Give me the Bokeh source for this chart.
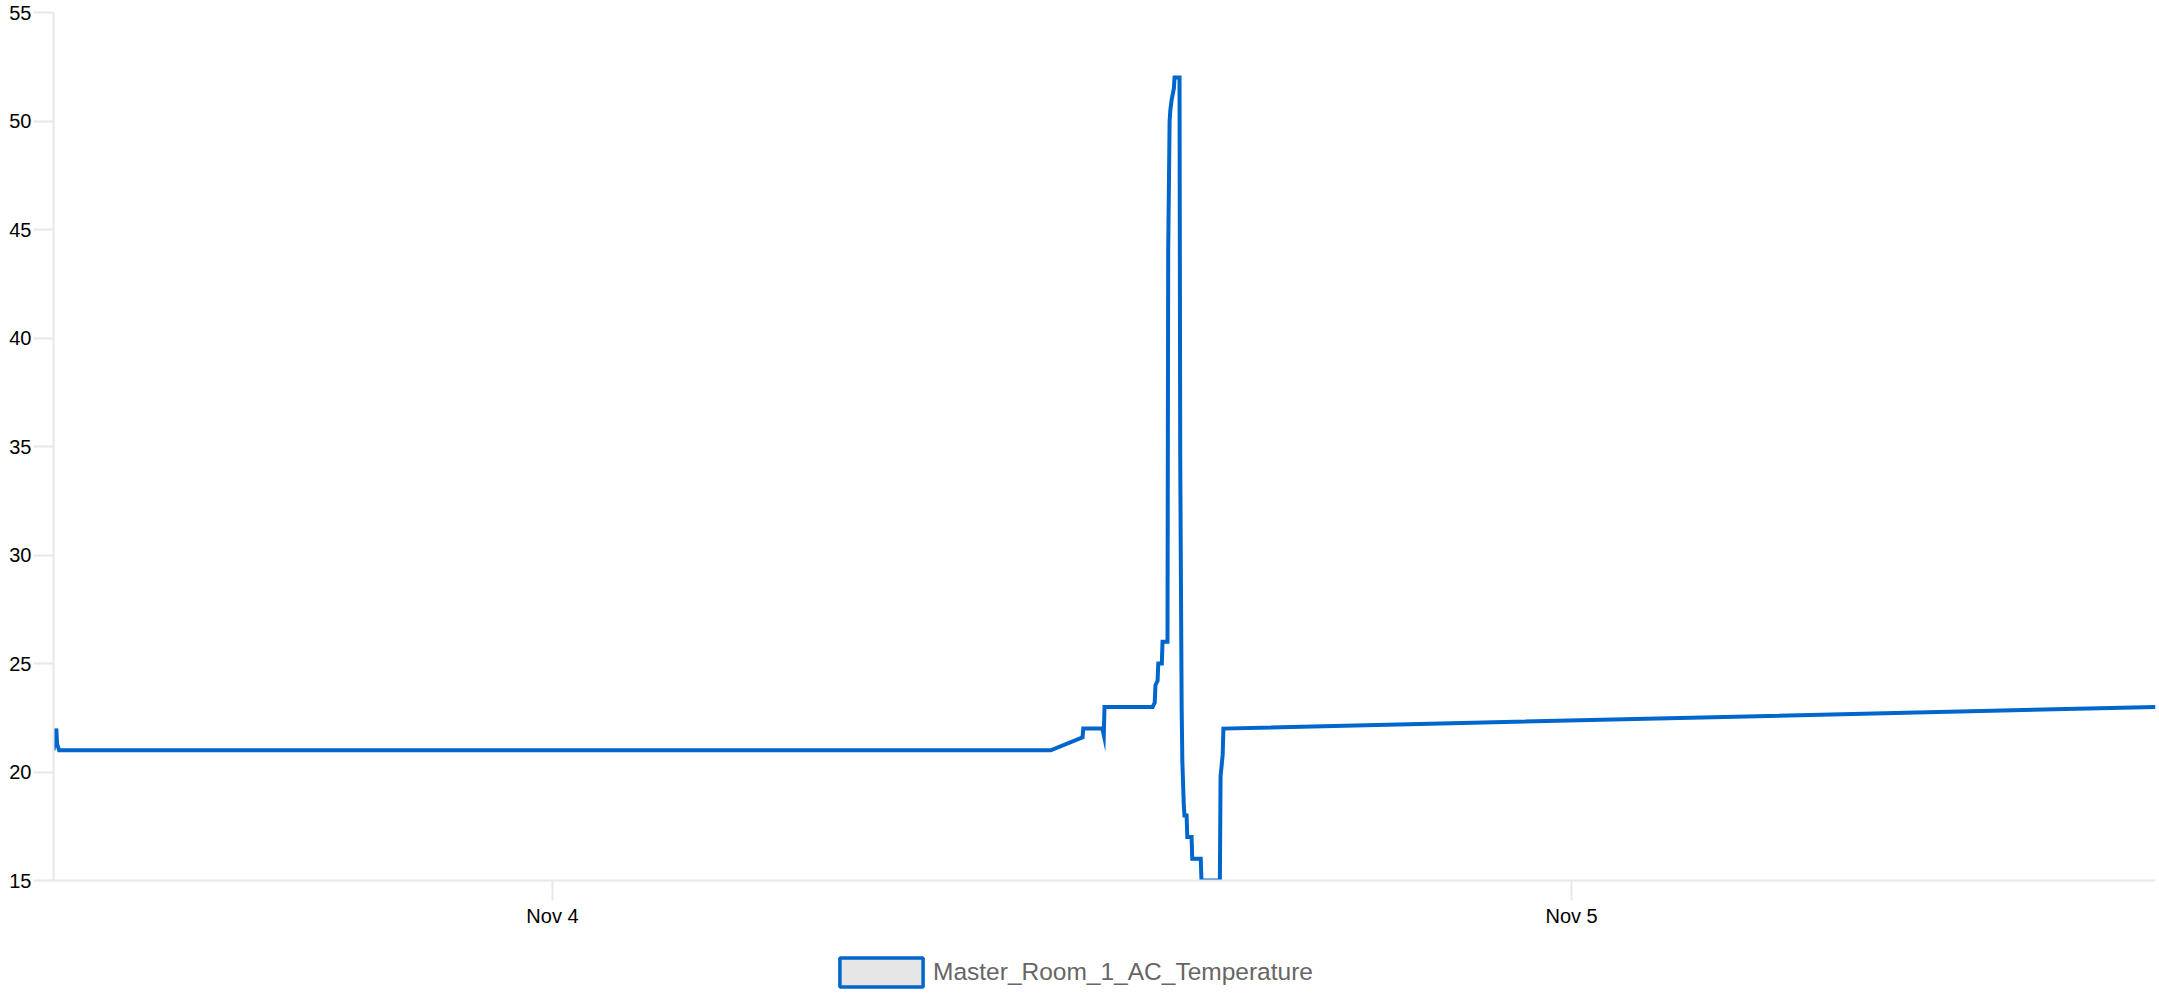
import pandas as pd
from bokeh.plotting import figure
from bokeh.layouts import column
from bokeh.models import Range1d, DaysTicker, DatetimeTickFormatter, Legend, LegendItem, FixedTicker
from bokeh.embed import file_html
from bokeh.resources import INLINE

series_name = "Master_Room_1_AC_Temperature"

times = [
    "2023-11-03 12:15", "2023-11-03 12:19", "2023-11-03 12:20", "2023-11-03 12:23",
    "2023-11-04 11:44", "2023-11-04 12:29", "2023-11-04 12:30", "2023-11-04 12:57",
    "2023-11-04 12:59", "2023-11-04 13:00", "2023-11-04 14:08", "2023-11-04 14:11",
    "2023-11-04 14:12", "2023-11-04 14:15", "2023-11-04 14:16", "2023-11-04 14:21",
    "2023-11-04 14:22", "2023-11-04 14:29", "2023-11-04 14:30", "2023-11-04 14:32",
    "2023-11-04 14:33", "2023-11-04 14:35", "2023-11-04 14:38", "2023-11-04 14:39",
    "2023-11-04 14:46", "2023-11-04 14:47", "2023-11-04 14:49", "2023-11-04 14:50",
    "2023-11-04 14:52", "2023-11-04 14:53", "2023-11-04 14:56", "2023-11-04 14:57",
    "2023-11-04 15:03", "2023-11-04 15:04", "2023-11-04 15:16", "2023-11-04 15:17",
    "2023-11-04 15:43", "2023-11-04 15:44", "2023-11-04 15:47", "2023-11-04 15:48",
    "2023-11-05 13:45",
]
temps = [
    21, 22, 21.3, 21,
    21, 21.6, 22, 22,
    21.7, 23, 23, 23.2,
    24, 24.2, 25, 25,
    26, 26, 44, 50,
    50.5, 51, 51.5, 52,
    52, 34.5, 23, 20.5,
    18.5, 18, 18, 17,
    17, 16, 16, 15,
    15, 19.8, 20.8, 22,
    23,
]
y_ticks = [15, 20, 25, 30, 35, 40, 45, 50, 55]
x_start = "2023-11-03 12:15"
x_end = "2023-11-05 13:45"

t = pd.to_datetime(times)
FONT = "Liberation Sans"
GRAY = "#e8e8e8"
BLUE = "#0066cc"

p = figure(width=2159, height=930, x_axis_type="datetime",
           x_range=Range1d(pd.Timestamp(x_start), pd.Timestamp(x_end)),
           y_range=Range1d(15, 55),
           output_backend="svg", toolbar_location=None,
           min_border_left=53, min_border_right=4, min_border_top=12,
           min_border_bottom=50)
p.outline_line_color = None
p.grid.visible = False
p.background_fill_color = "white"
p.border_fill_color = "white"

line = p.line(t, temps, line_color=BLUE, line_width=4, line_join="miter")

p.yaxis.ticker = FixedTicker(ticks=y_ticks)
p.xaxis.ticker = DaysTicker(days=list(range(1, 32)))
p.xaxis.formatter = DatetimeTickFormatter(days="%b %-d", months="%b %-d")

for ax in (p.xaxis[0], p.yaxis[0]):
    ax.axis_line_color = GRAY
    ax.axis_line_width = 2
    ax.major_tick_line_color = GRAY
    ax.major_tick_line_width = 2
    ax.major_tick_in = 0
    ax.major_tick_out = 20
    ax.minor_tick_line_color = None
    ax.major_label_text_font = FONT
    ax.major_label_text_font_size = "20px"
    ax.major_label_text_color = "black"
p.yaxis.major_label_standoff = 2
p.xaxis.major_label_standoff = 4

# legend strip below the chart (its swatch renderer lies outside this strip's view)
lg = figure(width=2159, height=70, x_range=Range1d(0, 1), y_range=Range1d(0, 1),
            output_backend="svg", toolbar_location=None,
            x_axis_location=None, y_axis_location=None,
            min_border_left=0, min_border_right=0, min_border_top=0, min_border_bottom=0)
lg.outline_line_color = None
lg.grid.visible = False
swatch = lg.quad(left=t[:1], right=t[:1], top=temps[:1], bottom=temps[:1],
                 fill_color="#e6e6e6", line_color=BLUE, line_width=3.5)
legend = Legend(items=[LegendItem(label=series_name, renderers=[swatch])],
                location=(776, 10), orientation="horizontal",
                glyph_width=104, glyph_height=36, label_height=36,
                label_standoff=0, padding=0, margin=0, spacing=0,
                label_text_font=FONT, label_text_font_size="24.5px",
                label_text_color="#666666",
                background_fill_alpha=0, border_line_color=None)
lg.add_layout(legend, "center")

open("out.html", "w").write(file_html(column(p, lg, spacing=0), INLINE))
